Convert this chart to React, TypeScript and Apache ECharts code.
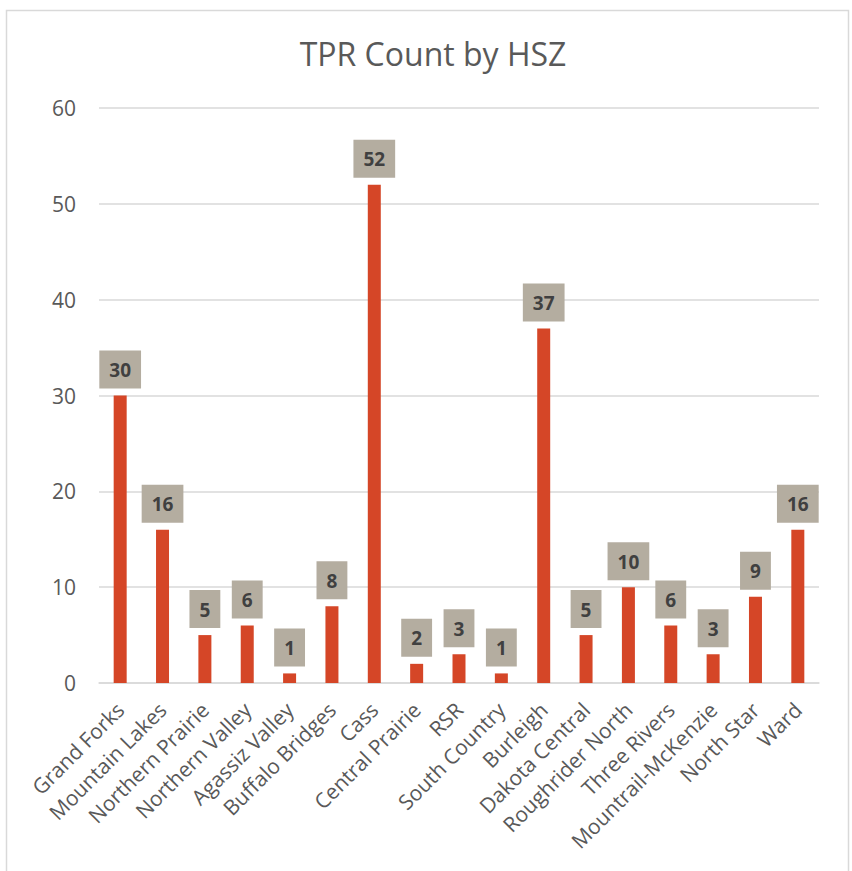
import React, { useEffect, useRef } from "react";
import * as echarts from "echarts";

const categories = [
  "Grand Forks", "Mountain Lakes", "Northern Prairie", "Northern Valley", "Agassiz Valley",
  "Buffalo Bridges", "Cass", "Central Prairie", "RSR", "South Country", "Burleigh",
  "Dakota Central", "Roughrider North", "Three Rivers", "Mountrail-McKenzie", "North Star", "Ward",
];
const counts = [30, 16, 5, 6, 1, 8, 52, 2, 3, 1, 37, 5, 10, 6, 3, 9, 16];
const yTicks = [0, 10, 20, 30, 40, 50, 60];

export default function App() {
  const ref = useRef<HTMLDivElement>(null);
  useEffect(() => {
    const chart = echarts.init(ref.current!, null, { renderer: "svg" });
    const font = "'Open Sans', sans-serif";
    chart.setOption({
      animation: false,
      backgroundColor: "#ffffff",
      textStyle: { fontFamily: font },
      title: {
        text: "TPR Count by HSZ",
        left: 428,
        top: 32,
        textAlign: "center",
        textStyle: { fontFamily: font, fontSize: 32, fontWeight: "normal", color: "#595959" },
      },
      graphic: [
        {
          type: "rect",
          shape: { x: 6.5, y: 10.5, width: 842, height: 880 },
          style: { fill: "none", stroke: "#d9d9d9", lineWidth: 1.5 },
          silent: true,
        },
      ],
      grid: { left: 99, right: 33, top: 108, bottom: 188, containLabel: false },
      xAxis: {
        type: "category",
        data: categories,
        axisLine: { lineStyle: { color: "#d9d9d9", width: 1.5 } },
        axisTick: { show: false },
        axisLabel: {
          rotate: 45,
          interval: 0,
          color: "#595959",
          fontSize: 21,
          fontFamily: font,
          margin: 23,
        },
      },
      yAxis: {
        type: "value",
        min: yTicks[0],
        max: yTicks[yTicks.length - 1],
        interval: 10,
        axisLine: { show: false },
        axisTick: { show: false },
        splitLine: { lineStyle: { color: "#d9d9d9", width: 1.5 } },
        axisLabel: { color: "#595959", fontSize: 21, fontFamily: font, margin: 23 },
      },
      series: [
        {
          type: "bar",
          data: counts,
          barWidth: 13,
          itemStyle: { color: "#d54627" },
          label: {
            show: true,
            position: "top",
            distance: 7,
            backgroundColor: "#b4ada0",
            padding: [10, 10, 9, 10],
            color: "#404040",
            fontSize: 19,
            fontWeight: "bold",
            fontFamily: font,
          },
        },
      ],
    });
    return () => chart.dispose();
  }, []);
  return (
    <div
      ref={ref}
      style={{ position: "absolute", left: 0, top: 0, width: 852, height: 871 }}
    />
  );
}
